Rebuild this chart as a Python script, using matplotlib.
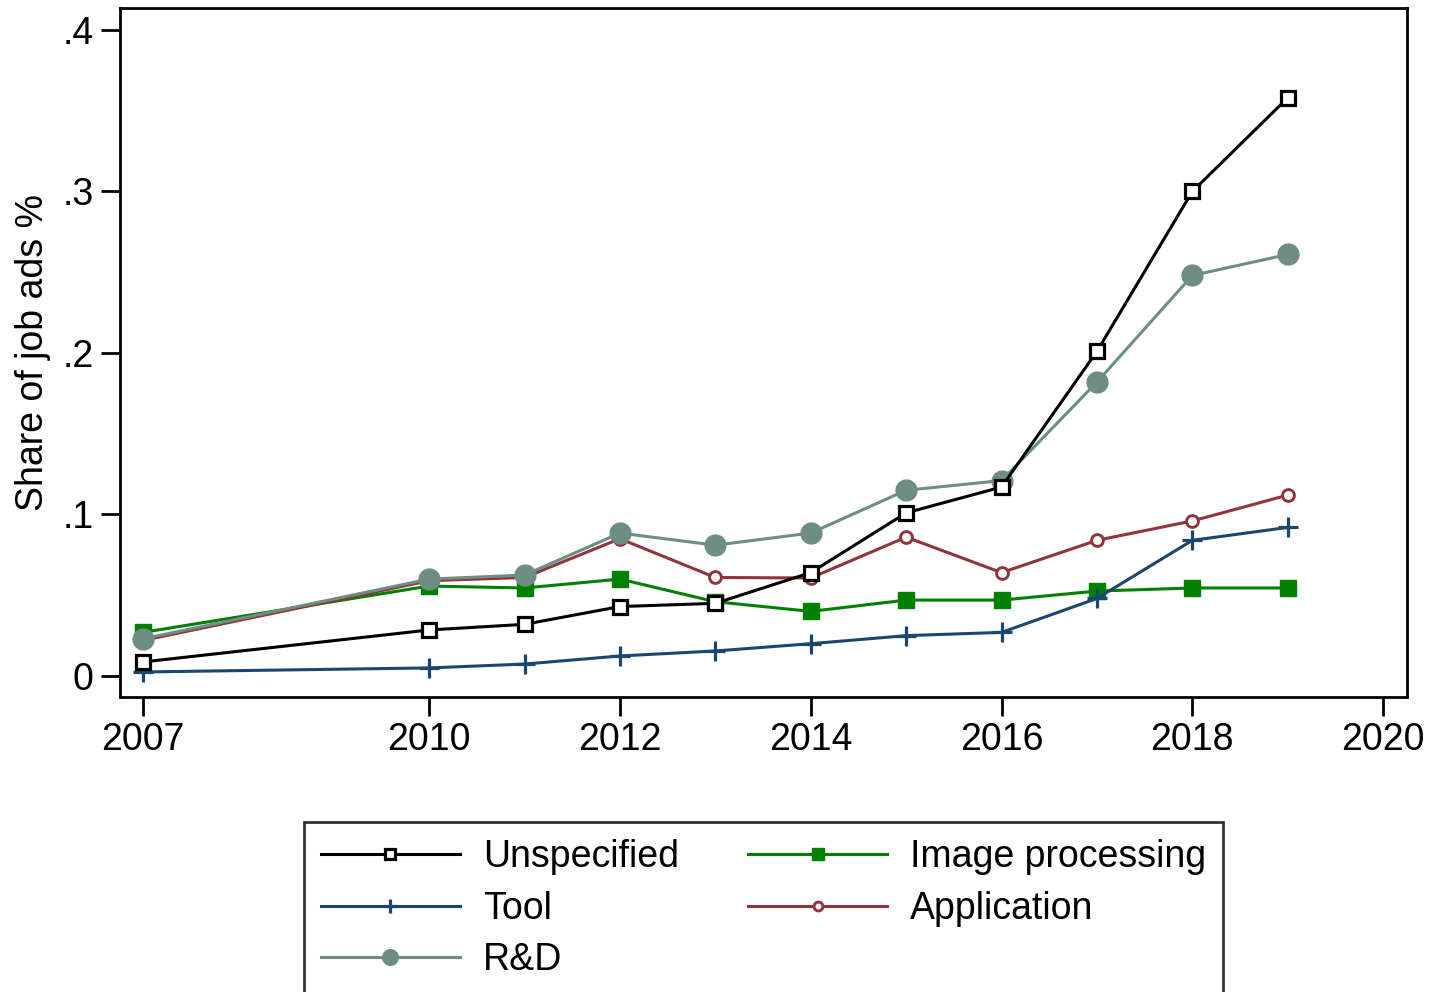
import matplotlib
matplotlib.use("Agg")
import matplotlib.pyplot as plt

plt.rcParams['font.family'] = ['Liberation Sans', 'DejaVu Sans']

years = [2007, 2010, 2011, 2012, 2013, 2014, 2015, 2016, 2017, 2018, 2019]
unspecified = [0.0087, 0.0285, 0.032, 0.043, 0.045, 0.064, 0.101, 0.117, 0.201, 0.300, 0.358]
tool = [0.0025, 0.005, 0.0074, 0.0124, 0.0155, 0.020, 0.025, 0.027, 0.048, 0.084, 0.092]
image_processing = [0.027, 0.0557, 0.0545, 0.060, 0.046, 0.040, 0.047, 0.047, 0.0526, 0.0545, 0.0545]
application = [0.022, 0.059, 0.061, 0.085, 0.061, 0.0607, 0.086, 0.064, 0.084, 0.096, 0.112]
rnd = [0.023, 0.060, 0.0625, 0.0885, 0.081, 0.0885, 0.115, 0.121, 0.182, 0.248, 0.261]

xticks = [2007, 2010, 2012, 2014, 2016, 2018, 2020]
yticks = [0, 0.1, 0.2, 0.3, 0.4]
ytick_labels = ['0', '.1', '.2', '.3', '.4']

fs = 27
fig = plt.figure(figsize=(14.35, 9.92), dpi=100)
ax = fig.add_axes([120 / 1435, 1 - 697 / 992, (1407 - 120) / 1435, (697 - 8) / 992])

lw = 2.2
ax.plot(years, unspecified, color='black', lw=lw, marker='s', ms=9.5,
        mfc='white', mec='black', mew=2.3, label='Unspecified', zorder=5)
ax.plot(years, image_processing, color='#008000', lw=lw, marker='s', ms=11.5,
        mfc='#008000', mec='#008000', label='Image processing', zorder=3)
ax.plot(years, tool, color='#1a476f', lw=lw, marker='+', ms=14, mew=2.3,
        label='Tool', zorder=4)
ax.plot(years, application, color='#90353b', lw=lw, marker='o', ms=8.5,
        mfc='white', mec='#90353b', mew=2.1, label='Application', zorder=4)
ax.plot(years, rnd, color='#6e8e84', lw=lw, marker='o', ms=15,
        mfc='#6e8e84', mec='#6e8e84', label='R&D', zorder=4)

ax.set_xlim(2006.76, 2020.25)
ax.set_ylim(-0.013, 0.4136)
ax.set_xticks(xticks)
ax.set_xticklabels([str(x) for x in xticks])
ax.set_yticks(yticks)
ax.set_yticklabels(ytick_labels)
ax.tick_params(axis='both', length=14, width=2, labelsize=fs, color='black')
ax.tick_params(axis='x', pad=4)
ax.tick_params(axis='y', pad=5)
for s in ax.spines.values():
    s.set_linewidth(2)
ax.set_ylabel('Share of job ads %', fontsize=fs, labelpad=8)

handles, labels = ax.get_legend_handles_labels()
order = ['Unspecified', 'Tool', 'R&D', 'Image processing', 'Application']
hmap = dict(zip(labels, handles))
leg = fig.legend([hmap[k] for k in order], order, loc='upper left',
                 bbox_to_anchor=(304 / 1435, 1 - 822 / 992), ncol=2,
                 fontsize=fs, frameon=True, fancybox=False, edgecolor='black',
                 handlelength=3.7, handletextpad=0.62, columnspacing=1.85,
                 labelspacing=0.42, borderpad=0.45, borderaxespad=0,
                 markerscale=0.75)
leg.get_frame().set_linewidth(2)

fig.savefig('out.png', dpi=100, facecolor='white')
